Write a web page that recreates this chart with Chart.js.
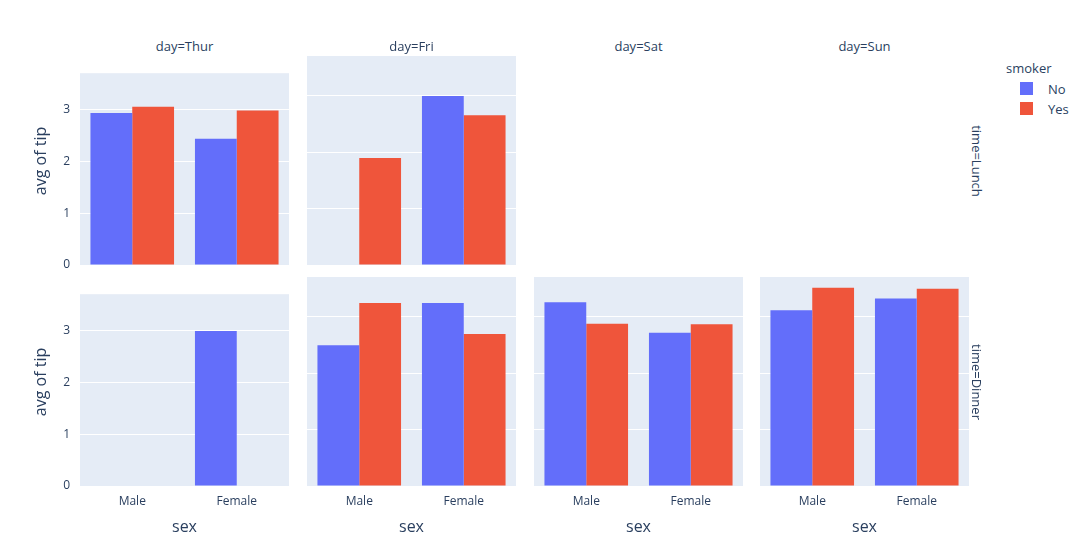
<!DOCTYPE html>
<html>
<head>
<meta charset="utf-8">
<script src="https://cdn.jsdelivr.net/npm/chart.js@4"></script>
<style>
body { margin: 0; background: #fff; font-family: "Open Sans", sans-serif; color: #2a3f5f; }
#wrap { position: relative; width: 1080px; height: 552px; }
.cv { position: absolute; }
.t { position: absolute; white-space: nowrap; font-size: 13px; }
</style>
</head>
<body>
<div id="wrap"></div>
<script>
// data
const days = ['Thur', 'Fri', 'Sat', 'Sun'];
const times = ['Lunch', 'Dinner'];
const sexes = ['Male', 'Female'];
// [time][day] -> [No values by sex, Yes values by sex]; null = empty panel
const lunchNo  = [[2.94, 2.44], [null, 3.00], null, null];
const lunchYes = [[3.06, 2.99], [1.90, 2.66], null, null];
const dinnerNo  = [[null, 3.00], [2.50, 3.25], [3.26, 2.72], [3.12, 3.33]];
const dinnerYes = [[null, null], [3.25, 2.70], [2.88, 2.87], [3.52, 3.50]];
const yTicks = [0, 1, 2, 3];

const wrap = document.getElementById('wrap');
const colLeft = [80, 307, 534, 760];
const rowTop = [56, 277];
const pw = 209, ph = 209;

const bgPlugin = {
    id: 'bg',
    beforeDraw(chart) {
        const a = chart.chartArea, c = chart.ctx;
        c.save();
        c.fillStyle = '#e5ecf6';
        c.fillRect(a.left, a.top, a.right - a.left, a.bottom - a.top);
        c.restore();
    }
};

function addText(txt, x, y, opts) {
    const d = document.createElement('div');
    d.className = 't';
    d.textContent = txt;
    d.style.left = x + 'px';
    d.style.top = y + 'px';
    Object.assign(d.style, opts || {});
    wrap.appendChild(d);
    return d;
}

times.forEach((time, r) => {
    const noArr = r === 0 ? lunchNo : dinnerNo;
    const yesArr = r === 0 ? lunchYes : dinnerYes;
    days.forEach((day, c) => {
        if (!noArr[c]) return;
        const cv = document.createElement('canvas');
        cv.className = 'cv';
        cv.style.left = (colLeft[c] - 40) + 'px';
        cv.style.top = rowTop[r] + 'px';
        cv.style.width = (pw + 40) + 'px';
        cv.style.height = (ph + 30) + 'px';
        cv.width = pw + 40; cv.height = ph + 30;
        wrap.appendChild(cv);
        new Chart(cv.getContext('2d'), {
            type: 'bar',
            data: {
                labels: sexes,
                datasets: [
                    { label: 'No', data: noArr[c], backgroundColor: '#636efa' },
                    { label: 'Yes', data: yesArr[c], backgroundColor: '#ef553b' }
                ]
            },
            options: {
                responsive: false,
                animation: false,
                layout: { padding: 0 },
                plugins: { legend: { display: false }, tooltip: { enabled: false } },
                datasets: { bar: { barPercentage: 1, categoryPercentage: 0.8 } },
                scales: {
                    x: {
                        grid: { display: false },
                        border: { display: false },
                        ticks: { display: r === 1, color: '#2a3f5f', font: { family: 'Open Sans', size: 12 }, padding: 0 },
                        afterFit(s) { s.height = 30; }
                    },
                    y: {
                        min: 0, max: 3.71,
                        afterBuildTicks(s) { s.ticks = yTicks.map(v => ({ value: v })); },
                        grid: { color: '#ffffff', lineWidth: 1, drawTicks: false },
                        border: { display: false },
                        ticks: { display: c === 0, color: '#2a3f5f', font: { family: 'Open Sans', size: 12 }, padding: 10 },
                        afterFit(s) { s.width = 40; }
                    }
                }
            },
            plugins: [bgPlugin]
        });
    });
});

// facet titles
days.forEach((day, c) => {
    addText('day=' + day, colLeft[c] + pw / 2, 37, { transform: 'translateX(-50%)' });
});
times.forEach((time, r) => {
    addText('time=' + time, 977, rowTop[r] + ph / 2, { transform: 'translate(-50%,-50%) rotate(90deg)' });
    addText('avg of tip', 40, rowTop[r] + ph / 2, { transform: 'translate(-50%,-50%) rotate(-90deg)', fontSize: '16px' });
});
colLeft.forEach(x => {
    addText('sex', x + pw / 2, 515, { transform: 'translateX(-50%)', fontSize: '16px' });
});
// legend
addText('smoker', 1006, 59, { fontSize: '13px' });
const legend = [['No', '#636efa', 82], ['Yes', '#ef553b', 102]];
legend.forEach(([name, col, y]) => {
    const sw = document.createElement('div');
    sw.style.cssText = 'position:absolute;left:1020px;top:' + y + 'px;width:13px;height:13px;background:' + col;
    wrap.appendChild(sw);
    addText(name, 1048, y - 2);
});
</script>
</body>
</html>
